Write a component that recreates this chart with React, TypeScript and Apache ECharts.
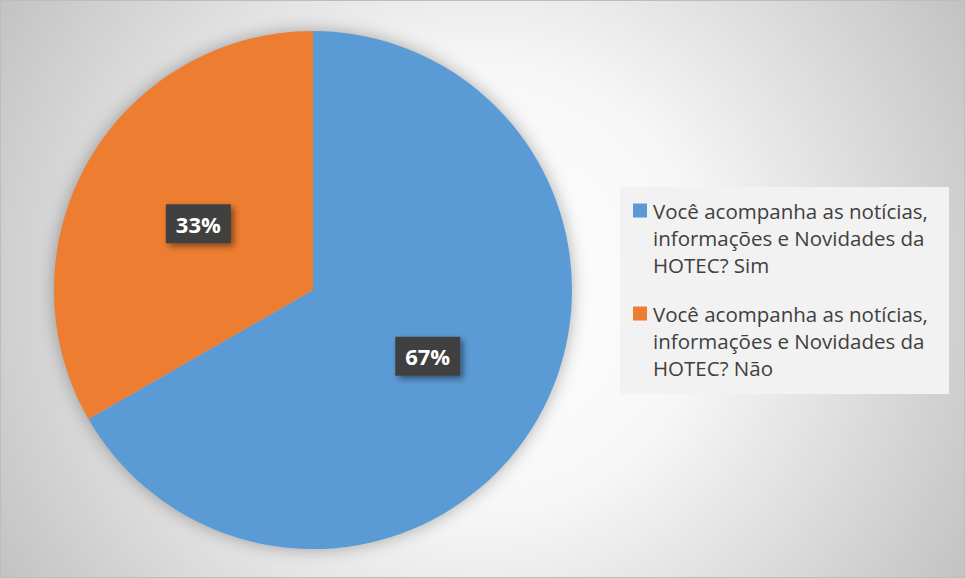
import React, { useEffect, useRef } from "react";
import * as echarts from "echarts";

const categories = [
  "Você acompanha as notícias, informações e Novidades da HOTEC? Sim",
  "Você acompanha as notícias, informações e Novidades da HOTEC? Não",
];
const legendLines = [
  ["Você acompanha as notícias,", "informações e Novidades da", "HOTEC? Sim"],
  ["Você acompanha as notícias,", "informações e Novidades da", "HOTEC? Não"],
];
const values = [66.7, 33.3];
const colors = ["#5B9BD5", "#ED7D31"];

const FONT = "'Open Sans', 'Noto Sans', sans-serif";

export default function App() {
  const ref = useRef<HTMLDivElement>(null);
  useEffect(() => {
    if (!ref.current) return;
    const chart = echarts.init(ref.current, undefined, { renderer: "svg" });
    const rich: Record<string, any> = {
      t: { fontFamily: FONT, fontSize: 20.5, color: "#404040", lineHeight: 27 },
      s: { width: 20, height: 14, lineHeight: 27 },
      g: { width: 6, height: 14, lineHeight: 27 },
    };
    colors.forEach((c, i) => {
      rich["m" + i] = { width: 14, height: 14, backgroundColor: c, lineHeight: 27 };
    });
    chart.setOption({
      animation: false,
      backgroundColor: "transparent",
      color: colors,
      graphic: [
        {
          type: "rect",
          z: 0,
          shape: { x: 619, y: 186, width: 329, height: 207 },
          style: { fill: "#f2f2f2" },
          silent: true,
        },
        {
          type: "circle",
          z: 0,
          shape: { cx: 312, cy: 289, r: 258 },
          style: { fill: "#bbbbbb", shadowBlur: 18, shadowColor: "rgba(0,0,0,0.35)" },
          silent: true,
        },
      ],
      legend: {
        orient: "vertical",
        left: 619,
        top: 186,
        padding: [10, 10, 10, 8],
        itemWidth: 0,
        itemHeight: 0,
        icon: "none",
        itemGap: 22,
        selectedMode: false,
        data: categories,
        formatter: (name: string) => {
          const i = categories.indexOf(name);
          const lines = legendLines[i];
          return lines
            .map((l, k) => (k === 0 ? `{m${i}|}{g|}{t|${l}}` : `{s|}{t|${l}}`))
            .join("\n");
        },
        textStyle: { rich, fontFamily: FONT, fontSize: 20.5, color: "#404040", lineHeight: 27 },
      },
      series: [
        {
          type: "pie",
          center: [312, 289],
          radius: 259,
          startAngle: 90,
          clockwise: true,
          z: 2,
          label: {
            position: "inside",
            formatter: (p: any) => `${Math.round(p.percent)}%`,
            color: "#ffffff",
            fontWeight: "bold",
            fontSize: 22,
            fontFamily: FONT,
            backgroundColor: "#404040",
            padding: [9, 10, 8, 10],
            shadowBlur: 6,
            shadowOffsetX: 3,
            shadowOffsetY: 3,
            shadowColor: "rgba(0,0,0,0.45)",
          },
          labelLine: { show: false },
          itemStyle: { borderWidth: 0 },
          emphasis: { disabled: true },
          data: categories.map((name, i) => ({ name, value: values[i] })),
        },
      ],
    });
    return () => chart.dispose();
  }, []);
  return (
    <div
      ref={ref}
      style={{
        position: "absolute",
        left: 0,
        top: 0,
        width: 965,
        height: 578,
        boxSizing: "border-box",
        border: "1px solid #bdbdbd",
        background:
          "radial-gradient(circle at 50% 50%, #ffffff 0px, #f7f7f7 220px, #c2c2c2 565px)",
      }}
    />
  );
}
